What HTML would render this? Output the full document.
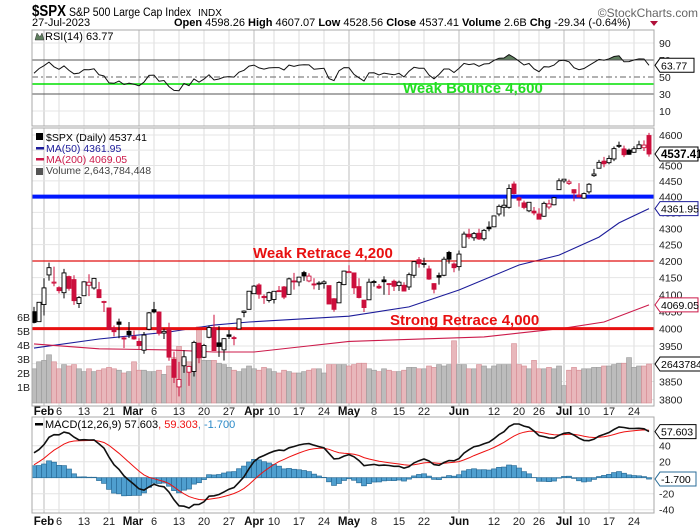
<!DOCTYPE html>
<html><head><meta charset="utf-8"><style>
html,body{margin:0;padding:0;background:#fff;width:700px;height:530px;overflow:hidden}
svg{display:block;font-family:"Liberation Sans",sans-serif}
</style></head><body>
<svg id="chart" width="700" height="530" viewBox="0 0 700 530" xmlns="http://www.w3.org/2000/svg">
<g>
<text x="32" y="16" font-size="16" font-weight="bold" fill="#000" textLength="34" lengthAdjust="spacingAndGlyphs">$SPX</text>
<text x="69" y="16" font-size="11.5" fill="#000" textLength="122" lengthAdjust="spacingAndGlyphs">S&amp;P 500 Large Cap Index</text>
<text x="198" y="16" font-size="10" fill="#000">INDX</text>
<text x="698" y="17" font-size="12" fill="#666" text-anchor="end">©StockCharts.com</text>
<text x="32" y="26" font-size="11" fill="#000">27-Jul-2023</text>
<text x="174" y="26" font-size="11" fill="#000"><tspan font-weight="bold">Open</tspan> 4598.26 <tspan font-weight="bold">High</tspan> 4607.07 <tspan font-weight="bold">Low</tspan> 4528.56 <tspan font-weight="bold">Close</tspan> 4537.41 <tspan font-weight="bold">Volume</tspan> 2.6B <tspan font-weight="bold">Chg</tspan> -29.34 (-0.64%)</text>
<polygon points="650,21 658,21 654,26" fill="#b0103a"/>
</g>
<defs>
<clipPath id="cR"><rect x="32" y="30" width="622" height="96"/></clipPath>
<clipPath id="cM"><rect x="32" y="128" width="622" height="278"/></clipPath>
<clipPath id="cD"><rect x="32" y="417" width="622" height="96"/></clipPath>
</defs>
<g id="grid"></g>
<g id="rsi"></g>
<g id="main"></g>
<g id="macd"></g>
<g id="axes"></g>
</svg>
<script>
const opens=[4049,4020,4070,4158,4136,4120,4105,4153,4144,4073,4096,4127,4119,4114,4077,4060,4001,4019,3973,3992,3977,3963,3938,3998,4055,4048,3987,3998,3912,3835,3894,3876,3878,3958,3918,3975,4002,3959,3939,3982,3974,3999,4047,4056,4102,4128,4094,4082,4085,4111,4122,4100,4140,4137,4165,4140,4131,4132,4132,4126,4087,4075,4129,4166,4164,4123,4083,4084,4136,4124,4143,4132,4139,4126,4127,4122,4157,4204,4191,4176,4132,4156,4157,4226,4191,4183,4242,4282,4271,4285,4268,4304,4305,4345,4366,4366,4440,4396,4380,4355,4354,4345,4338,4367,4374,4422,4450,4442,4422,4405,4395,4415,4467,4491,4514,4509,4521,4563,4554,4550,4543,4555,4558,4598.26];
const highs=[4063,4077,4148,4195,4183,4124,4176,4156,4157,4095,4139,4160,4149,4137,4081,4060,4009,4029,3978,4019,3994,3972,3990,4048,4078,4050,4000,4017,3934,3905,3938,3894,3965,3959,3956,4009,4040,4007,3972,3996,3979,4030,4053,4110,4128,4133,4100,4108,4109,4125,4125,4150,4164,4152,4170,4163,4148,4139,4142,4126,4089,4139,4171,4187,4164,4148,4083,4147,4143,4131,4154,4133,4144,4141,4136,4165,4199,4212,4210,4186,4133,4165,4213,4231,4196,4232,4290,4299,4289,4299,4298,4322,4339,4375,4391,4439,4448,4400,4387,4382,4367,4363,4384,4390,4399,4458,4456,4454,4423,4443,4413,4443,4489,4518,4528,4533,4562,4578,4565,4555,4563,4581,4582,4607.07];
const lows=[4015,4020,4038,4141,4124,4103,4088,4111,4069,4060,4096,4095,4114,4089,4048,3997,3977,3972,3944,3973,3968,3940,3928,3995,4044,3980,3970,3908,3846,3809,3874,3838,3864,3901,3916,3972,3936,3919,3909,3970,3952,3999,4033,4056,4102,4087,4072,4076,4073,4109,4086,4100,4114,4124,4140,4136,4115,4113,4117,4072,4049,4075,4127,4164,4101,4088,4048,4084,4123,4116,4099,4098,4110,4110,4109,4113,4149,4180,4180,4143,4103,4129,4154,4192,4166,4171,4242,4267,4262,4264,4262,4291,4304,4338,4337,4362,4407,4368,4360,4351,4341,4328,4336,4360,4372,4422,4443,4437,4385,4398,4393,4409,4463,4490,4494,4504,4514,4557,4527,4535,4541,4555,4547,4528.56];
const closes=[4017.77,4076.6,4119.21,4179.76,4136.48,4111.08,4164,4117.86,4081.5,4090.46,4137.29,4136.13,4147.6,4090.41,4079.09,3997.34,3991.05,4012.32,3970.04,3982.24,3970.15,3951.39,3981.35,4045.64,4048.42,3986.37,3992.01,3918.32,3861.59,3855.76,3919.29,3891.93,3960.28,3916.64,3951.57,4002.87,3936.97,3948.72,3970.99,3977.53,3971.27,4027.81,4050.83,4109.31,4124.51,4100.6,4090.38,4105.02,4109.11,4108.94,4091.95,4146.22,4137.64,4151.32,4154.87,4154.52,4129.79,4133.52,4137.04,4071.63,4055.99,4135.35,4169.48,4167.87,4119.58,4090.75,4061.22,4136.25,4138.12,4119.17,4137.64,4130.62,4124.08,4136.28,4109.9,4158.77,4198.05,4191.98,4192.63,4145.58,4115.24,4151.28,4205.45,4205.52,4179.83,4221.02,4282.37,4273.79,4283.85,4267.52,4293.93,4298.86,4338.93,4369.01,4372.59,4425.84,4409.59,4388.71,4365.69,4381.89,4348.33,4328.82,4378.41,4376.86,4396.44,4450.38,4455.59,4446.82,4411.59,4398.95,4409.53,4439.26,4472.16,4510.04,4505.42,4522.79,4554.98,4565.72,4534.87,4536.34,4554.64,4567.46,4566.75,4537.41];
const volumes=[2.3,2.8,2.9,3.3,2.8,2.3,2.6,2.5,2.6,2.3,2.1,2.3,2.1,2.2,2.3,2.4,2.3,2.2,2.0,2.1,2.8,2.2,2.2,2.1,2.1,2.2,1.9,2.5,3.1,3.9,3.0,2.8,2.6,5.3,2.9,2.9,2.9,2.7,2.6,2.4,2.2,2.1,2.3,2.5,2.3,2.2,2.4,2.3,2.1,2.0,2.2,2.1,2.0,2.0,2.1,2.2,2.3,2.3,2.0,2.6,2.6,2.6,2.6,2.5,2.6,2.7,2.7,2.3,2.2,2.1,2.3,2.2,2.1,2.1,2.2,2.4,2.4,2.3,2.3,2.5,2.4,2.6,2.5,2.6,4.3,2.6,2.6,2.3,2.3,2.6,2.5,2.3,2.5,2.6,2.6,2.6,4.1,2.6,2.5,2.3,2.9,2.3,2.3,2.4,2.3,2.5,1.1,2.2,2.4,2.2,2.3,2.3,2.4,2.4,2.5,2.5,2.6,2.7,2.7,3.1,2.4,2.5,2.5,2.64];
const historyCloses=[4076,4071,3998,3941,3933,3963,3934,3990,4019,3995,3895,3852,3817,3821,3878,3822,3845,3829,3783,3849,3839,3824,3852,3808,3895,3892,3919,3969,3983,3999,3990,3928,3898,3972,4019,4016,4016,4060,4070];
const ma50Idx=[0,13,27,36,43,63,75,85,97,105,113,117,123];
const ma50Vals=[3944,3970,3990,4010,4019,4036,4063,4113,4188,4218,4273,4317,4362];
const ma200Idx=[0,13,27,36,44,53,63,90,97,106,114,123];
const ma200Vals=[3956,3942,3939,3933,3933,3947,3963,3976,3987,4001,4019,4069];
const priceTicks=[3800,3850,3900,3950,4000,4050,4100,4150,4200,4250,4300,4350,4400,4450,4500,4550,4600];
const volTicks=[1,2,3,4,5,6];
const rsiTicks=[10,30,50,70,90];
const macdTicks=[40,20,-20,-40];
const weekIdx=[5,10,15,29,34,39,48,53,58,68,73,78,92,97,101,110,115,120];
const weekLabels=["6","13","21","13","20","27","10","17","24","8","15","22","12","20","26","10","17","24"];
const monthIdx=[2,21,44,63,85,106];
const monthLabels=["Feb","Mar","Apr","May","Jun","Jul"];
const extraIdx=[24];const extraLabels=["6"];

const NS="http://www.w3.org/2000/svg";
const X=i=>34+5*i;
const PY=p=>261-1385*Math.log(p/4200);
const VY=v=>401-v*14;
const RY=v=>77-(v-50)*0.85;
const MY=v=>477.7-v*0.8;
function mk(parent,tag,attrs,text){const e=document.createElementNS(NS,tag);for(const k in attrs)e.setAttribute(k,attrs[k]);if(text!==undefined)e.textContent=text;parent.appendChild(e);return e;}
const G=document.getElementById('grid'),R=document.getElementById('rsi'),M=document.getElementById('main'),D=document.getElementById('macd'),A=document.getElementById('axes');

const panels=[[30,126],[128,406],[417,513]];
weekIdx.concat(extraIdx).forEach(i=>panels.forEach(p=>{const l=mk(G,'line',{x1:X(i),x2:X(i),y1:p[0],y2:p[1],stroke:'#dedede','stroke-width':1});

}));
monthIdx.forEach(i=>panels.forEach(p=>{const l=mk(G,'line',{x1:X(i),x2:X(i),y1:p[0],y2:p[1],stroke:'#bdbdbd','stroke-width':1});

}));
priceTicks.forEach(p=>{const l=mk(G,'line',{x1:32,x2:654,y1:PY(p),y2:PY(p),stroke:'#e4e4e4'});

});
[10,90].forEach(v=>{const l=mk(G,'line',{x1:32,x2:654,y1:RY(v),y2:RY(v),stroke:'#e4e4e4'});

});
macdTicks.concat([0]).forEach(v=>{const l=mk(G,'line',{x1:32,x2:654,y1:MY(v),y2:MY(v),stroke:'#e4e4e4'});

});

const all=historyCloses.concat(closes),H=historyCloses.length;
let ag=0,al=0;const rsi=[];
for(let k=1;k<all.length;k++){const d=all[k]-all[k-1],g=Math.max(d,0),ls=Math.max(-d,0);
 if(k<=14){ag+=g/14;al+=ls/14;}else{ag=(ag*13+g)/14;al=(al*13+ls)/14;}
 if(k>=H)rsi.push(100-100/(1+ag/(al||1e-9)));}
function ema(arr,n){const a=2/(n+1);const o=[arr[0]];for(let k=1;k<arr.length;k++)o.push(arr[k]*a+o[k-1]*(1-a));return o;}
const e12=ema(all,12),e26=ema(all,26);const macdAll=all.map((v,k)=>e12[k]-e26[k]);const sigAll=ema(macdAll,9);
const macd=macdAll.slice(H),sig=sigAll.slice(H),hist=macd.map((v,k)=>v-sig[k]);

const rc=mk(R,'g',{'clip-path':'url(#cR)'});


let rp=rsi.map((v,i)=>(i?'L':'M')+X(i)+','+RY(v).toFixed(1)).join('');
const clipTop=mk(rc,'clipPath',{id:'rsiAbove'});mk(clipTop,'rect',{x:32,y:30,width:622,height:RY(70)-30});
const rf=mk(rc,'path',{d:rp+'L'+X(rsi.length-1)+','+RY(70)+'L'+X(0)+','+RY(70)+'Z',fill:'#5f7f5f','clip-path':'url(#rsiAbove)'});


[[70,'#555',''],[30,'#555',''],[50,'#666','6,3,2,3']].forEach(t=>{const l=mk(rc,'line',{x1:32,x2:654,y1:RY(t[0]),y2:RY(t[0]),stroke:t[1],'stroke-width':1,'stroke-dasharray':t[2]});

});
const gb=mk(rc,'line',{x1:32,x2:654,y1:84,y2:84,stroke:'#00e000','stroke-width':1.5});


const rl=mk(rc,'path',{d:rp,fill:'none',stroke:'#111','stroke-width':1});


const gt=mk(R,'text',{x:403,y:93,'font-size':15,'font-weight':'bold',fill:'#22dd22'},'Weak Bounce 4,600');


const rt=mk(R,'text',{x:45,y:40,'font-size':11,fill:'#000'},'RSI(14) 63.77');


mk(R,'path',{d:'M35,40 L37,33 L40,37 L42,33 L44,40Z',fill:'#5f7f5f',stroke:'#333','stroke-width':0.5});

const mc=mk(M,'g',{'clip-path':'url(#cM)'});


volumes.forEach((v,i)=>{const down=i>0&&closes[i]<closes[i-1];const b=mk(mc,'rect',{x:X(i)-2.5,y:VY(v),width:5,height:401-VY(v)+2,fill:down?'#e8b7bb':'#bcbcbc',stroke:down?'#d58a92':'#9a9a9a','stroke-width':0.6});

});
function line(idx,vals,color,name){const d=idx.map((k,j)=>(j?'L':'M')+X(k)+','+PY(vals[j]).toFixed(1)).join('');const p=mk(mc,'path',{d:d,fill:'none',stroke:color,'stroke-width':1.1});

}
line(ma50Idx,ma50Vals,'#1c1c9a','ma50-line');
line(ma200Idx,ma200Vals,'#cc1a4a','ma200-line');
const lvl=[[4400,'#0018ff',4,'support-4400-line'],[4200,'#e01010',1.3,'weak-retrace-line'],[4000,'#e81010',3,'strong-retrace-line']];
lvl.forEach(t=>{const l=mk(mc,'line',{x1:32,x2:654,y1:PY(t[0]),y2:PY(t[0]),stroke:t[1],'stroke-width':t[2]});

});
closes.forEach((c,i)=>{const o=opens[i];const down=i>0&&c<closes[i-1];const col=down?'#cc0f3c':'#000';
 const w=mk(mc,'line',{x1:X(i),x2:X(i),y1:PY(highs[i]),y2:PY(lows[i]),stroke:col,'stroke-width':1});
 
 
 const top=PY(Math.max(o,c)),bot=PY(Math.min(o,c));
 const b=mk(mc,'rect',{x:X(i)-2,y:top,width:4,height:Math.max(bot-top,1),fill:c<o?col:'#fff',stroke:col,'stroke-width':0.9});
 
 });
const wr=mk(M,'text',{x:253,y:258,'font-size':15,'font-weight':'bold',fill:'#e81010'},'Weak Retrace 4,200');


const sr=mk(M,'text',{x:390,y:325,'font-size':15,'font-weight':'bold',fill:'#e81010'},'Strong Retrace 4,000');


const leg=[['$SPX (Daily) 4537.41','#000',141],['MA(50) 4361.95','#1c1c9a',152],['MA(200) 4069.05','#cc1a4a',163],['Volume 2,643,784,448','#444',174]];
leg.forEach((t,j)=>{const e=mk(M,'text',{x:46,y:t[2],'font-size':10.5,fill:t[1]},t[0]);


if(j==1||j==2)mk(M,'rect',{x:36,y:t[2]-5,width:8,height:2.5,fill:t[1]});});
mk(M,'rect',{x:36,y:133,width:7,height:7,fill:'#000'});
mk(M,'rect',{x:36,y:168,width:7,height:7,fill:'#555'});

const dc=mk(D,'g',{'clip-path':'url(#cD)'});


hist.forEach((h,i)=>{const y0=MY(0),y1=MY(h);const b=mk(dc,'rect',{x:X(i)-2.5,y:Math.min(y0,y1),width:5,height:Math.abs(y1-y0),fill:'#4f9fcf',stroke:'#2b6e99','stroke-width':0.7});

});
const sp=mk(dc,'path',{d:sig.map((v,i)=>(i?'L':'M')+X(i)+','+MY(v).toFixed(1)).join(''),fill:'none',stroke:'#ee1111','stroke-width':1});


const mp=mk(dc,'path',{d:macd.map((v,i)=>(i?'L':'M')+X(i)+','+MY(v).toFixed(1)).join(''),fill:'none',stroke:'#111','stroke-width':1.6});


const ml=mk(D,'text',{x:45,y:428,'font-size':11});


mk(ml,'tspan',{fill:'#000'},'MACD(12,26,9) 57.603');mk(ml,'tspan',{fill:'#ee1111'},', 59.303');mk(ml,'tspan',{fill:'#2b8ac8'},', -1.700');
mk(D,'rect',{x:35,y:423,width:8,height:2.5,fill:'#000'});

[[30,126],[128,406],[417,513]].forEach(p=>{const r=mk(A,'rect',{x:32,y:p[0],width:622,height:p[1]-p[0],fill:'none',stroke:'#a8a8a8'});

});
priceTicks.forEach(p=>{const t=mk(A,'text',{x:659,y:PY(p)+4,'font-size':10.5,fill:'#222'},String(p));

});
volTicks.forEach(v=>{const t=mk(A,'text',{x:30,y:VY(v)+4,'font-size':10.5,fill:'#222','text-anchor':'end'},v+'B');

});
rsiTicks.forEach(v=>{const t=mk(A,'text',{x:659,y:RY(v)+4,'font-size':10.5,fill:'#222'},String(v));

});
macdTicks.forEach(v=>{const t=mk(A,'text',{x:659,y:MY(v)+4,'font-size':10.5,fill:'#222'},String(v));

});
[411,521].forEach(y=>{
 weekIdx.concat(extraIdx).forEach((i,j)=>{const lab=j<weekLabels.length?weekLabels[j]:extraLabels[j-weekLabels.length];const t=mk(A,'text',{x:X(i),y:y+4,'font-size':11,fill:'#222','text-anchor':'middle'},lab);
 
 });
 monthIdx.forEach((i,j)=>{const t=mk(A,'text',{x:X(i)-(j==1?6:0),y:y+4,'font-size':11.5,'font-weight':'bold',fill:'#111','text-anchor':'middle'},monthLabels[j]);
 
 });
});
function tag(y,txt,stroke,bold,w,name){const g=mk(A,'g',{});
 
 
 mk(g,'polygon',{points:`655,${y} 660,${y-7} ${660+w},${y-7} ${660+w},${y+7} 660,${y+7}`,fill:'#fff',stroke:stroke,'stroke-width':1});
 mk(g,'text',{x:661,y:y+4,'font-size':bold?11.5:10.5,'font-weight':bold?'bold':'normal',fill:'#000'},txt);}
tag(PY(closes[closes.length-1]),'4537.41','#000',true,38,'last-price-tag');
tag(PY(ma50Vals[ma50Vals.length-1]),'4361.95','#1c1c9a',false,38,'ma50-tag');
tag(PY(ma200Vals[ma200Vals.length-1]),'4069.05','#cc1a4a',false,38,'ma200-tag');
tag(VY(volumes[volumes.length-1]),'2643784','#000',false,42,'volume-tag');
tag(RY(rsi[rsi.length-1]),'63.77','#000',false,34,'rsi-tag');
tag(MY(macd[macd.length-1]),'57.603','#000',false,36,'macd-tag');
tag(MY(hist[hist.length-1]),'-1.700','#2b6e99',false,36,'macd-hist-tag');
</script>
</body></html>
